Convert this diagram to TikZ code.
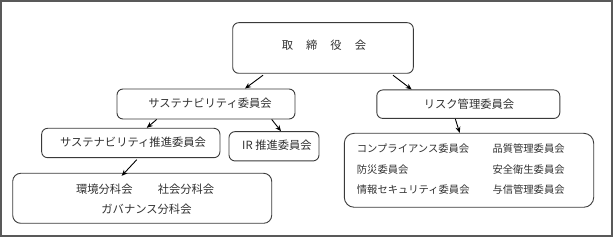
\documentclass[tikz,border=0pt]{standalone}
\usepackage{fontspec}
\setmainfont{Noto Sans CJK JP}
\usetikzlibrary{arrows.meta}
\definecolor{linec}{HTML}{3A3A3A}
\definecolor{textc}{HTML}{303030}
\tikzset{
  box/.style={draw=linec, line width=0.9pt, rounded corners=6pt, inner sep=0pt},
  lbl/.style={inner sep=0pt, text=textc, font=\fontsize{11.3}{13}\selectfont},
  slbl/.style={inner sep=0pt, text=textc, anchor=west, font=\fontsize{10.3}{12}\selectfont},
  arr/.style={-{Stealth[length=6pt,width=5pt]}, line width=0.9pt, black},
}
\begin{document}
\begin{tikzpicture}[x=1pt,y=-1pt]
\useasboundingbox (0,0) rectangle (613,237);
\draw[draw=black!65, line width=1.6pt] (0.8,0.8) rectangle (612.2,236.2);

% boxes
\node[box, minimum width=180.6pt, minimum height=50.6pt] (top) at (323,48) {};
\node[box, minimum width=178pt, minimum height=30pt] (sust) at (206,104) {};
\node[box, minimum width=183pt, minimum height=28.5pt] (risk) at (468.3,104.2) {};
\node[box, minimum width=178.3pt, minimum height=29.4pt] (suip) at (130.8,143) {};
\node[box, minimum width=90pt, minimum height=29.3pt] (ir) at (274,146.3) {};
\node[box, minimum width=259pt, minimum height=50pt, rounded corners=8pt] (bunka) at (142.2,198.3) {};
\node[box, minimum width=249.4pt, minimum height=74pt, rounded corners=10pt] (rsub) at (469,170.3) {};

% labels
\node[lbl] (ttop) at (324,45) {取\hspace{13pt}締\hspace{13pt}役\hspace{13pt}会};
\node[lbl] (tsust) at (210,103.3) {サステナビリティ委員会};
\node[lbl] (trisk) at (469,104) {リスク管理委員会};
\node[lbl] (tsuip) at (133,142.3) {サステナビリティ推進委員会};
\node[lbl] (tir) at (277,145) {IR 推進委員会};
\node[lbl] (tb1) at (104.3,189) {環境分科会};
\node[lbl] (tb2) at (186,189) {社会分科会};
\node[lbl] (tb3) at (146.5,209) {ガバナンス分科会};
\node[slbl] (r1) at (356.7,149) {コンプライアンス委員会};
\node[slbl] (r2) at (356.7,170) {防災委員会};
\node[slbl] (r3) at (356.7,190) {情報セキュリティ委員会};
\node[slbl] (r4) at (492.3,149) {品質管理委員会};
\node[slbl] (r5) at (492.3,170) {安全衛生委員会};
\node[slbl] (r6) at (492.3,190) {与信管理委員会};

% connectors
\draw[arr] ([xshift=-60pt,yshift=-1.5pt]top.south) -- ([xshift=39pt]sust.north);
\draw[arr] ([xshift=70pt,yshift=-1.5pt]top.south) -- ([xshift=-56.6pt]risk.north);
\draw[arr] ([xshift=-49.3pt]sust.south) -- ([xshift=16pt]suip.north);
\draw[arr] ([xshift=65.7pt]sust.south) -- ([xshift=7pt]ir.north);
\draw[arr] ([xshift=6pt,yshift=-1.5pt]suip.south) -- ([xshift=-20.5pt,yshift=-3pt]bunka.north);
\draw[arr] ([xshift=-13pt]risk.south) -- ([xshift=-9.3pt]rsub.north);
\end{tikzpicture}
\end{document}
